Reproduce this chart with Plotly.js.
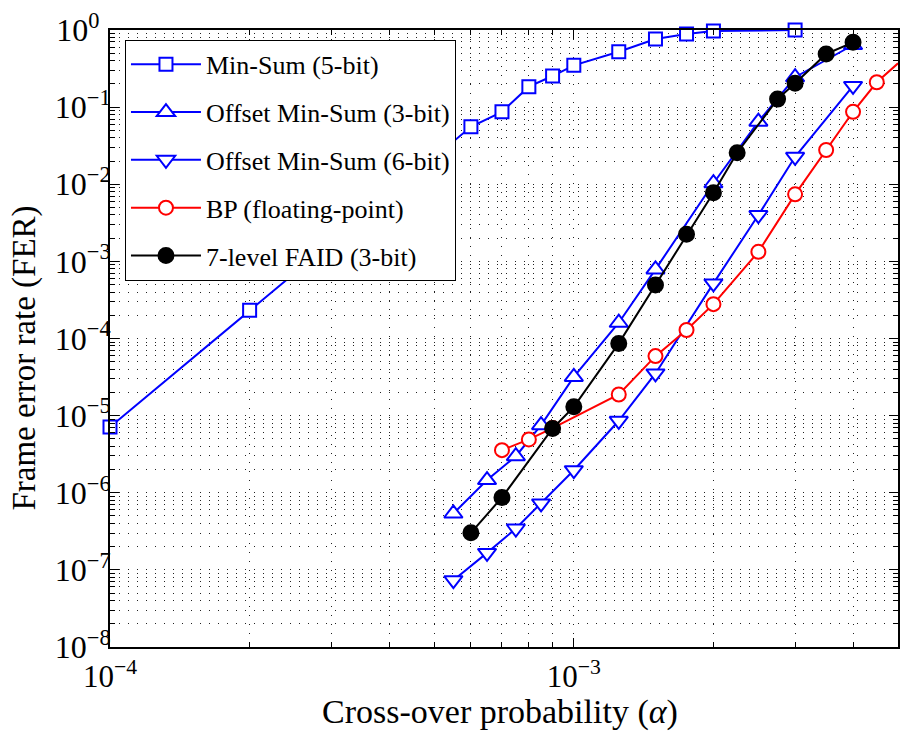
<!DOCTYPE html>
<html>
<head>
<meta charset="utf-8">
<script src="https://cdn.plot.ly/plotly-3.0.1.min.js"></script>
<style>
html, body { margin: 0; padding: 0; background: #fff; }
#chart { width: 901px; height: 738px; }
</style>
</head>
<body>
<div id="chart"></div>
<script>
// ---- data ----
const minSumX = [1e-4, 2e-4, 3e-4, 4e-4, 5e-4, 6e-4, 7e-4, 8e-4, 9e-4, 1e-3, 1.25e-3, 1.5e-3, 1.75e-3, 2e-3, 3e-3];
const minSumY = [7.1e-6, 2.33e-4, 1.75e-3, 7.2e-3, 2.19e-2, 5.57e-2, 8.7e-2, 0.184, 0.253, 0.348, 0.523, 0.764, 0.887, 0.97, 1.0];

const oms3X = [5.5e-4, 6.5e-4, 7.5e-4, 8.5e-4, 1e-3, 1.25e-3, 1.5e-3, 2e-3, 2.5e-3, 3e-3, 4e-3];
const oms3Y = [5.38e-7, 1.46e-6, 2.98e-6, 7.53e-6, 3.18e-5, 1.6e-4, 7.87e-4, 1.03e-2, 6.47e-2, 0.244, 0.639];

const oms6X = [5.5e-4, 6.5e-4, 7.5e-4, 8.5e-4, 1e-3, 1.25e-3, 1.5e-3, 2e-3, 2.5e-3, 3e-3, 4e-3];
const oms6Y = [7.35e-8, 1.66e-7, 3.44e-7, 7.26e-7, 1.96e-6, 8.57e-6, 3.52e-5, 5.18e-4, 3.99e-3, 2.27e-2, 0.188];

const bpX = [7e-4, 8e-4, 9e-4, 1.25e-3, 1.5e-3, 1.75e-3, 2e-3, 2.5e-3, 3e-3, 3.5e-3, 4e-3, 4.5e-3, 5e-3];
const bpY = [3.57e-6, 4.91e-6, 6.9e-6, 1.88e-5, 5.91e-5, 1.29e-4, 2.79e-4, 1.33e-3, 7.4e-3, 2.78e-2, 8.7e-2, 0.21, 0.37];

const faidX = [6e-4, 7e-4, 9e-4, 1e-3, 1.25e-3, 1.5e-3, 1.75e-3, 2e-3, 2.25e-3, 2.75e-3, 3e-3, 3.5e-3, 4e-3];
const faidY = [3.02e-7, 8.69e-7, 6.82e-6, 1.3e-5, 8.64e-5, 4.93e-4, 2.24e-3, 7.76e-3, 2.56e-2, 0.127, 0.204, 0.489, 0.692];

const seriesNames = ['Min-Sum (5-bit)', 'Offset Min-Sum (3-bit)', 'Offset Min-Sum (6-bit)', 'BP (floating-point)', '7-level FAID (3-bit)'];

const xTitle = 'Cross-over probability (<i>\u03b1</i>)';
const yTitle = 'Frame error rate (FER)';

const xTickVals = [1e-4, 1e-3];
const xTickText = ['10<sup>\u22124</sup>', '10<sup>\u22123</sup>'];
const yTickVals = [1e-8, 1e-7, 1e-6, 1e-5, 1e-4, 1e-3, 1e-2, 1e-1, 1];
const yTickText = ['10<sup>\u22128</sup>', '10<sup>\u22127</sup>', '10<sup>\u22126</sup>', '10<sup>\u22125</sup>',
                   '10<sup>\u22124</sup>', '10<sup>\u22123</sup>', '10<sup>\u22122</sup>', '10<sup>\u22121</sup>', '10<sup>0\u2002</sup>'];

// minor tick / grid positions (2..9 times each decade)
const xMinor = [];
for (let e = -4; e <= -3; e++) for (let m = 2; m <= 9; m++) { const v = m * Math.pow(10, e); if (v <= 5e-3) xMinor.push(v); }
const yMinor = [];
for (let e = -8; e <= -1; e++) for (let m = 2; m <= 9; m++) yMinor.push(m * Math.pow(10, e));

const BLUE = '#0000ff', RED = '#ff0000', BLACK = '#000000';
const FONT = 'Liberation Serif, Times New Roman, serif';

function mk(x, y, name, color, symbol, fill, size, i) {
  return {
    x: x, y: y, name: name, type: 'scatter', mode: 'lines+markers',
    legendgroup: 'g' + i, cliponaxis: false,
    line: { color: color, width: 2 },
    marker: { symbol: symbol, size: size, color: fill, line: { color: color, width: 2 } }
  };
}

const traces = [
  mk(minSumX, minSumY, seriesNames[0], BLUE, 'square', '#ffffff', 13, 0),
  mk(oms3X, oms3Y, seriesNames[1], BLUE, 'triangle-up', '#ffffff', 16, 1),
  mk(oms6X, oms6Y, seriesNames[2], BLUE, 'triangle-down', '#ffffff', 16, 2),
  mk(bpX, bpY, seriesNames[3], RED, 'circle', '#ffffff', 14, 3),
  mk(faidX, faidY, seriesNames[4], BLACK, 'circle', BLACK, 15, 4)
];

const gridDash = '1px,8px';
const axisCommon = {
  type: 'log',
  showline: true, linecolor: '#000', linewidth: 2, mirror: 'ticks',
  ticks: 'inside', ticklen: 9, tickwidth: 1, tickcolor: '#000',
  showgrid: true, gridcolor: '#222', gridwidth: 1, griddash: gridDash,
  zeroline: false,
  tickmode: 'array',
  tickfont: { family: FONT, size: 32, color: '#000' }
};

const layout = {
  width: 901, height: 738,
  margin: { l: 110, r: 3, t: 30, b: 91 },
  paper_bgcolor: '#fff', plot_bgcolor: '#fff',
  font: { family: FONT, color: '#000' },
  showlegend: true,
  xaxis: Object.assign({}, axisCommon, {
    range: [-4, Math.log10(5e-3)],
    tickvals: xTickVals, ticktext: xTickText,
    tickfont: { family: FONT, size: 31, color: '#000' },
    ticklabelstandoff: 1,
    minor: { tickmode: 'array', tickvals: xMinor, ticks: 'inside', ticklen: 5, tickcolor: '#000',
             showgrid: true, gridcolor: '#222', gridwidth: 1, griddash: gridDash }
  }),
  yaxis: Object.assign({}, axisCommon, {
    range: [-8, 0],
    tickvals: yTickVals, ticktext: yTickText,
    ticklabelstandoff: -9,
    minor: { tickmode: 'array', tickvals: yMinor, ticks: 'inside', ticklen: 5, tickcolor: '#000',
             showgrid: true, gridcolor: '#222', gridwidth: 1, griddash: gridDash }
  }),
  annotations: [
    { text: xTitle, xref: 'paper', yref: 'paper', x: 0.5, y: -0.1005, xshift: -4, yshift: -3,
      xanchor: 'center', yanchor: 'middle', showarrow: false,
      font: { family: FONT, size: 34, color: '#000' } },
    { text: yTitle, xref: 'paper', yref: 'paper', x: -0.1091, y: 0.4854, yshift: -11, textangle: -90,
      xanchor: 'center', yanchor: 'middle', showarrow: false,
      font: { family: FONT, size: 33, color: '#000' } }
  ],
  legend: {
    x: 0.019, y: 0.984, xanchor: 'left', yanchor: 'top',
    bgcolor: '#fff', bordercolor: '#000', borderwidth: 1,
    font: { family: FONT, size: 26, color: '#000' },
    tracegroupgap: 11, itemwidth: 70,
    traceorder: 'grouped'
  }
};

Plotly.newPlot('chart', traces, layout, { staticPlot: true, displayModeBar: false });
</script>
</body>
</html>
